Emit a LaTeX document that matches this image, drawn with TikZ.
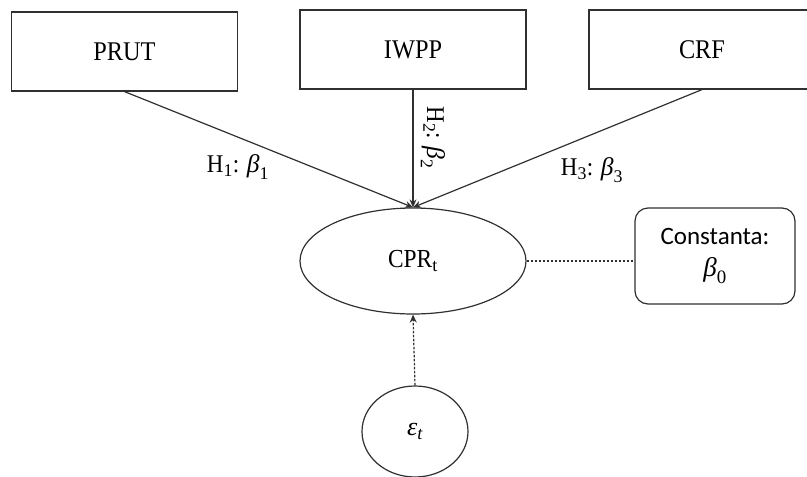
\RequirePackage{fix-cm}
\documentclass[tikz,border=0pt]{standalone}
\usepackage{amsmath}
\usepackage{fontspec}
\setmainfont[FakeStretch=0.9]{Liberation Serif}
\newfontfamily\calib{Carlito}
\newfontfamily\mathgr{Liberation Serif}
\newcommand{\gbeta}{\text{\mathgr\itshape β}}
\newcommand{\gsub}[1]{\text{\mathgr #1}}
\usetikzlibrary{shapes.geometric,arrows.meta}
\definecolor{edge}{HTML}{303030}
\begin{document}
\begin{tikzpicture}[x=1pt,y=-1pt,
  every node/.style={text=black},
  boxnode/.style={draw=edge,line width=1.2pt,rectangle,minimum width=226pt,minimum height=79pt,inner sep=0pt,font=\fontsize{27}{30}\selectfont},
  ellnode/.style={draw=edge,line width=1.2pt,ellipse,inner sep=0pt},
  constbox/.style={draw=edge,line width=1.2pt,rectangle,rounded corners=13pt,minimum width=160pt,minimum height=96pt,inner sep=0pt,align=center,font=\calib\fontsize{25}{34}\selectfont},
  conn/.style={draw=edge,line width=1.2pt,-{Stealth[length=8pt,width=7pt]}},
  dconn/.style={draw=edge,line width=1.2pt,dash pattern=on 2.5pt off 1.5pt},
  lbl/.style={font=\fontsize{25.5}{29}\selectfont,inner sep=0pt}]
\useasboundingbox (0,0) rectangle (807,477);
\node[boxnode] (prut) at (124.5,51.5) {PRUT};
\node[boxnode] (iwpp) at (413,49.5) {IWPP};
\node[boxnode] (crf) at (702,49.5) {CRF};
\node[ellnode,minimum width=226pt,minimum height=106pt,font=\fontsize{26}{30}\selectfont] (cpr) at (413,261) {CPR$_{\gsub{t}}$};
\node[constbox] (const) at (715,256) {Constanta:\\[-2pt]\fontsize{27}{30}\selectfont$\gbeta_{\gsub{0}}$};
\node[ellnode,minimum width=106pt,minimum height=91pt,font=\fontsize{26}{30}\selectfont] (eps) at (415,431.5) {$\text{\mathgr\itshape ε}_{\text{\mathgr\itshape t}}$};
\draw[conn] (prut.south) -- (cpr.north);
\draw[conn] (iwpp.south) -- (cpr.north);
\draw[conn] (crf.south) -- (cpr.north);
\draw[dconn] (cpr.east) -- (cpr.east -| const.west);
\draw[dconn,-{Stealth[length=8pt,width=7pt]}] (eps.north) -- (cpr.south);
\node[lbl] (h1) at (238,167) {H$_{\gsub{1}}$: $\gbeta_{\gsub{1}}$};
\node[lbl,rotate=-90] (h2) at (433,138) {H$_{\gsub{2}}$: $\gbeta_{\gsub{2}}$};
\node[lbl] (h3) at (592,170) {H$_{\gsub{3}}$: $\gbeta_{\gsub{3}}$};
\end{tikzpicture}
\end{document}
